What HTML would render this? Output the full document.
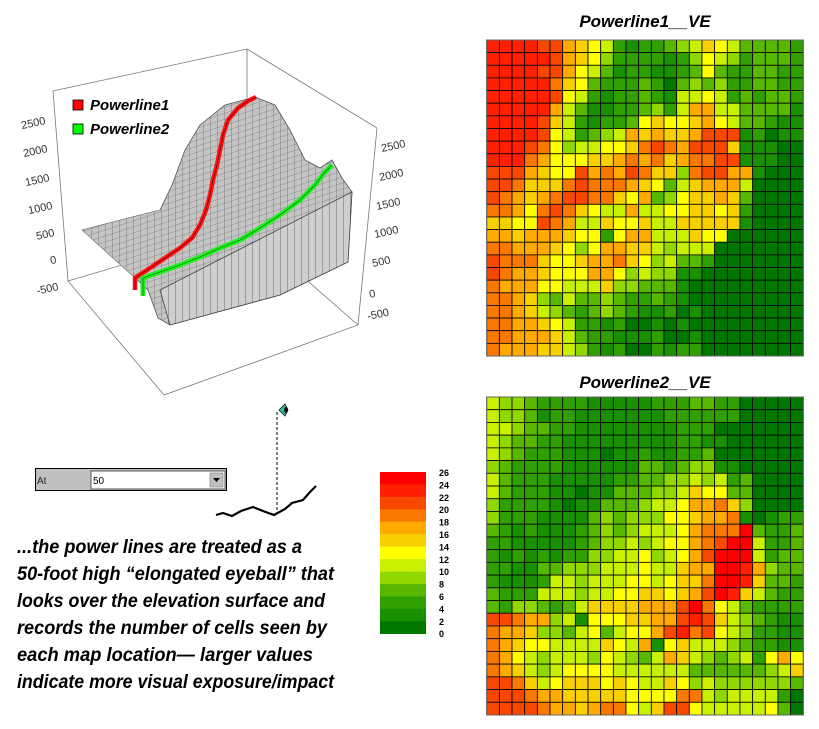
<!DOCTYPE html>
<html><head><meta charset="utf-8"><style>
html,body{margin:0;padding:0;background:#fff;}
body{width:819px;height:729px;overflow:hidden;position:relative;font-family:"Liberation Sans",sans-serif;}
svg{position:absolute;left:0;top:0;}
</style></head><body>
<svg id="s" width="819" height="729" viewBox="0 0 819 729" xmlns="http://www.w3.org/2000/svg">
<defs>
<pattern id="cells" width="7" height="6" patternUnits="userSpaceOnUse" patternTransform="skewY(-18)">
<rect width="7" height="6" fill="#c4c4c4"/>
<path d="M0 0H7M0 0V6" stroke="#555" stroke-width="0.6"/>
</pattern>
<pattern id="cols" width="7" height="40" patternUnits="userSpaceOnUse" patternTransform="skewY(-28)">
<rect width="7" height="40" fill="#cfcfcf"/>
<path d="M0 0V40" stroke="#444" stroke-width="0.7"/>
</pattern>
</defs>
<!-- 3D box -->
<g stroke="#777" stroke-width="0.8" fill="none">
<path d="M53 91 L247 49 L377 128"/>
<path d="M53 91 L68 281 L164 395 L358 325 L377 128"/>
<path d="M68 281 L247 228 L358 325"/>
<path d="M247 49 L247 228"/>
</g>
<!-- left ticks -->
<g font-size="11" fill="#333" font-family="Liberation Sans,sans-serif" text-anchor="end">
<text x="46" y="124" transform="rotate(-12 46 124)">2500</text>
<text x="48" y="152" transform="rotate(-12 48 152)">2000</text>
<text x="50" y="181" transform="rotate(-12 50 181)">1500</text>
<text x="53" y="209" transform="rotate(-12 53 209)">1000</text>
<text x="55" y="236" transform="rotate(-12 55 236)">500</text>
<text x="57" y="263" transform="rotate(-12 57 263)">0</text>
<text x="59" y="290" transform="rotate(-12 59 290)">-500</text>
</g>
<g font-size="11" fill="#333" font-family="Liberation Sans,sans-serif">
<text x="382" y="152" transform="rotate(-12 382 152)">2500</text>
<text x="380" y="181" transform="rotate(-12 380 181)">2000</text>
<text x="377" y="210" transform="rotate(-12 377 210)">1500</text>
<text x="375" y="238" transform="rotate(-12 375 238)">1000</text>
<text x="373" y="267" transform="rotate(-12 373 267)">500</text>
<text x="370" y="298" transform="rotate(-12 370 298)">0</text>
<text x="368" y="320" transform="rotate(-12 368 320)">-500</text>
</g>
<!-- surface -->
<path d="M82 230 L160 210 L172 185 L185 150 L200 125 L225 105 L255 97 L275 105 L290 130 L305 160 L320 168 L332 160 L342 178 L352 192 L348 262 L280 295 L170 325 L158 318 L148 290 L133 276 Z" fill="url(#cells)" stroke="#555" stroke-width="0.8"/>
<path d="M160 290 L352 192 L348 262 L280 295 L170 325 Z" fill="url(#cols)" stroke="#444" stroke-width="0.8"/>
<path d="M82 230 L160 210 L175 260 L133 276 Z" fill="url(#cells)" opacity="0.8"/>
<!-- red line -->
<polyline points="135,290 135,278 150,268 165,258 180,248 192,238 200,225 206,210 210,195 213,180 217,165 220,150 223,135 228,120 238,108 248,101 256,97" fill="none" stroke="#ff1010" stroke-width="4.5" stroke-linejoin="miter"/>
<polyline points="135,290 135,278 150,268 165,258 180,248 192,238 200,225 206,210 210,195 213,180 217,165 220,150 223,135 228,120 238,108 248,101 256,97" fill="none" stroke="#600" stroke-width="0.6"/>
<!-- green line -->
<polyline points="143,296 143,278 160,272 180,265 200,257 220,248 240,240 260,228 280,215 300,200 315,185 325,172 332,165" fill="none" stroke="#20f020" stroke-width="5"/>
<polyline points="143,296 143,278 160,272 180,265 200,257 220,248 240,240 260,228 280,215 300,200 315,185 325,172 332,165" fill="none" stroke="#060" stroke-width="0.6"/>
<!-- legend -->
<rect x="73" y="100" width="10" height="10" fill="#f00" stroke="#000" stroke-width="0.8"/>
<rect x="73" y="124" width="10" height="10" fill="#0f0" stroke="#000" stroke-width="0.8"/>
<g font-size="15" font-style="italic" font-weight="bold" fill="#000">
<text x="90" y="110">Powerline1</text>
<text x="90" y="134">Powerline2</text>
</g>
<!-- eye -->
<path d="M279 410 L285 404 L288 410 L285 416 Z" fill="#2ac0a0" stroke="#000" stroke-width="0.7"/>
<ellipse cx="286" cy="410" rx="2" ry="3" fill="#000"/>
<line x1="277" y1="412" x2="277" y2="513" stroke="#000" stroke-width="1" stroke-dasharray="3,2"/>
<polyline points="216,515 223,513 232,516 241,511 253,507 263,511 274,515 285,509 292,503 303,500 310,492 316,486" fill="none" stroke="#000" stroke-width="2.2"/>
<!-- widget -->
<rect x="35.5" y="468.5" width="191" height="22" fill="#c0c0c0" stroke="#000" stroke-width="1"/>
<text x="37" y="484" font-size="10" fill="#222">At</text>
<rect x="91" y="471" width="134" height="18" fill="#fff" stroke="#555" stroke-width="1"/>
<text x="93" y="484" font-size="10" fill="#000">50</text>
<rect x="210" y="473" width="13" height="14" fill="#c0c0c0" stroke="#777" stroke-width="0.6"/>
<path d="M213 478 L220 478 L216.5 482 Z" fill="#000"/>
<!-- text block -->
<g font-size="19" font-style="italic" font-weight="bold" fill="#000" font-family="Liberation Sans,sans-serif">
<text x="17" y="553" textLength="285" lengthAdjust="spacingAndGlyphs">...the power lines are treated as a</text>
<text x="17" y="580" textLength="317" lengthAdjust="spacingAndGlyphs">50-foot high “elongated eyeball” that</text>
<text x="17" y="607" textLength="308" lengthAdjust="spacingAndGlyphs">looks over the elevation surface and</text>
<text x="17" y="634" textLength="310" lengthAdjust="spacingAndGlyphs">records the number of cells seen by</text>
<text x="17" y="661" textLength="296" lengthAdjust="spacingAndGlyphs">each map location— larger values</text>
<text x="17" y="688" textLength="317" lengthAdjust="spacingAndGlyphs">indicate more visual exposure/impact</text>
</g>
<!-- titles -->
<g font-size="17" font-style="italic" font-weight="bold" fill="#000" text-anchor="middle">
<text x="645" y="27">Powerline1__VE</text>
<text x="645" y="388">Powerline2__VE</text>
</g>
<g id="bar"></g>
<g id="g1"></g>
<g id="g2"></g>
</svg>
<script>
var P={R:"#ff2000",r:"#f84800",O:"#f87800",o:"#ffaa00",Y:"#f8d000",y:"#ffff00",L:"#c8f000",l:"#90d800",G:"#58b800",g:"#30a000",D:"#189000",d:"#007800",X:"#ff0000"};
var A=["RRRRrroYyLgDggGlLYyLGGGGg","RRRRRroYylggggDglyLlgGGGg","RRRRrroyLGDggDDgGyGggGGgg","RRRRROYyGgggGgdGlGlggGGgg","RRRRRryLgDggGgDLLyLgGgGGg","RRRRRoLGDDggGlgLooLLGGGGD","RRRRrYLgDggGyYyyYoyLGGgDD","RRRRryLgGlLoYoYYorrrDgdDD","RRRrOylLLyyYOrOorrrYDDDdd","RRROoyyyYYoOoOYoOOrrDDDdd","rrroYyyroOorOYYlOrrooDddd","rrOYYYOrOOOoYyGLYoooLdddd","rOoYoOrrOOYyoGlyYYoYGdddd","OOoyOrOYyLLoLLyyYYyYgdddd","YYyyrOoLLYyyYLLYYYYYDdddd","ooYoooYyygyooLLLYyydddddd","OOoooYylyooYYLlLLLddddddd","rOOOYyyYooOYylLGGgddddddd","rOooYyyyooylLllDDdddddddd","OoooyyLLLYllGGGDddddddddd","OOoYlGLGGlGggGgDddddddddd","OOoYLlGgGlGgDDgdDdddddddd","OOooYyLggDgddDdDddddddddd","OOoooYLGggDDDgddDdddddddd","OoooYYLlgDgddgDggdddddddd"];
var B=["LllGggggDDDDDgggGGggddddd","LllGDggDDDDDDDggggggddddd","LLlGGggDDDDDDDDgggddddddd","LlGGggDDDDDDDDDggDDdddddd","LlGgggDDDdDDgDDggGddddddd","lGggggDDDDDDGGgGllDDddddd","LGgggDDDDDggGGllLlLgGdddd","LGgggDDdDDGGGllLYyyGGdddd","lggggDdDDGGGlLLyooOYldddd","lgggDDDDGlGlllyyYooODdDgg","GgDgDDDgGlGlLLLyoOOOXGggG","ggDDDDDgGllLlLyyoOrXXLggG","gDgDgDggllLLylLyorXXXLgGG","ggDDGGlllLLLyLLYooXXRolGG","gDDDgLLlLLLyyLyYYOXXRYGGg","GgggLLLlLLyyYYyYorXRYLGgg","GgllGgGLYYYYooorXOyLGgggg","rrOoolLDyyyYYoorRrYLlGgDD","OooYllGLyGLyyorROryLlggDD","OoYyyLLLLYyLoDyYLLLlGggDD","OoyLlLLLlyLlGLoYLlGlLgyoy","OoYLlLyyyyLLLLLLGGGGGGlLY","rrOYLyYYYyYyLLYylLllllllG","rrrOooYYYYYyyyyOOLlLLLLgd","rrrrOooYoOOyLYrryLLLLLyGd"];
var NS="http://www.w3.org/2000/svg";
function grid(id,data,x0,y0,w,h){var g=document.getElementById(id),cw=w/25,ch=h/25,s="";
for(var i=0;i<25;i++)for(var j=0;j<25;j++){s+='<rect x="'+(x0+j*cw).toFixed(2)+'" y="'+(y0+i*ch).toFixed(2)+'" width="'+cw.toFixed(2)+'" height="'+ch.toFixed(2)+'" fill="'+(P[data[i][j]]||"#007800")+'" stroke="#000" stroke-width="0.8"/>';}
s+='<rect x="'+x0+'" y="'+y0+'" width="'+w+'" height="'+h+'" fill="none" stroke="#666" stroke-width="1"/>';
g.innerHTML=s;}
grid("g1",A,486.7,40,316.6,316);
grid("g2",B,486.7,397,316.6,318);
var bc=["#ff0000","#ff2000","#f84800","#f87800","#ffaa00","#f8d000","#ffff00","#c8f000","#90d800","#58b800","#30a000","#189000","#007800"];
var s="";for(var i=0;i<13;i++){s+='<rect x="380" y="'+(472+i*12.45).toFixed(2)+'" width="46" height="12.6" fill="'+bc[i]+'"/>';}
for(var i=0;i<14;i++){s+='<text x="439" y="'+(476+i*12.4).toFixed(1)+'" font-size="9" font-weight="bold" fill="#000">'+(26-2*i)+'</text>';}
document.getElementById("bar").innerHTML=s;
</script>
</body></html>
